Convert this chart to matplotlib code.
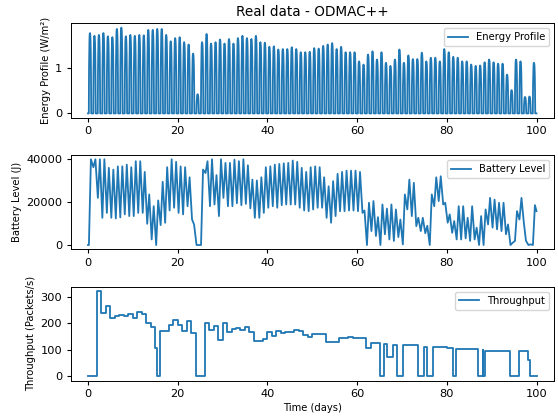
import matplotlib
matplotlib.use('Agg')
import matplotlib.pyplot as plt

# ---------------- data ----------------
days = list(range(100))

energy_peaks = [1.76, 1.70, 1.72, 1.76, 1.69, 1.67, 1.85, 1.88, 1.69, 1.72,
                1.70, 1.72, 1.71, 1.83, 1.83, 1.85, 1.85, 1.72, 1.58, 1.65,
                1.67, 1.56, 1.51, 1.31, 0.42, 1.56, 1.74, 1.53, 1.56, 1.62,
                1.53, 1.63, 1.53, 1.65, 1.70, 1.65, 1.63, 1.70, 1.56, 1.55,
                1.46, 1.47, 1.40, 1.41, 1.41, 1.45, 1.41, 1.34, 1.34, 1.35,
                1.43, 1.42, 1.48, 1.51, 1.54, 1.41, 1.46, 1.34, 1.34, 1.34,
                1.14, 1.07, 1.29, 1.36, 1.18, 1.34, 1.11, 1.04, 1.18, 1.40,
                1.11, 1.27, 1.19, 1.19, 1.33, 1.14, 1.22, 1.22, 1.14, 1.41,
                1.34, 1.24, 1.22, 1.14, 1.14, 1.07, 1.04, 1.05, 1.12, 1.18,
                1.12, 1.09, 1.09, 0.85, 0.51, 1.18, 1.14, 0.36, 0.37, 1.11]

# normalised shape of one day of irradiance (fraction of a day, fraction of peak)
day_shape_t = [0.18, 0.23, 0.28, 0.33, 0.38, 0.45, 0.52, 0.57, 0.62, 0.67, 0.72]
day_shape_f = [0.0, 0.55, 0.80, 0.93, 0.99, 1.00, 0.97, 0.90, 0.75, 0.45, 0.0]

# battery: morning minimum (~d+0.2) and evening maximum (~d+0.65)
batt_min = [0, 36300, 22000, 12700, 15000, 12700, 12400, 12900, 14300, 13500,
            13500, 15000, 15000, 9900, 2600, 0, 9300, 10400, 16100, 17400,
            15000, 14300, 18100, 11900, 0, 0, 33600, 18100, 18900, 13500,
            22000, 18100, 18100, 19500, 18600, 19200, 17100, 12700, 12700, 15000,
            17400, 18100, 17400, 18600, 18900, 18900, 18900, 17400, 16100, 15800,
            16600, 17400, 17400, 12700, 10400, 13500, 15800, 15800, 16100, 16100,
            15800, 15000, 0, 6500, 4200, 0, 5000, 2600, 1900, 3700,
            300, 16600, 13500, 8800, 6500, 5500, 0, 18100, 20500, 18900,
            10400, 5700, 2600, 2600, 3100, 1900, 2600, 0, 0, 9600,
            8100, 7300, 6500, 5000, 0, 1900, 11900, 10000, 0, 0]
batt_max = [40000, 40000, 40000, 40000, 36000, 35200, 36700, 36700, 37500, 36300,
            39100, 39100, 34100, 23600, 18100, 20800, 29500, 36300, 40000, 38800,
            36700, 36300, 31600, 9600, 0, 35200, 39100, 40000, 32600, 40000,
            38300, 38300, 39800, 39100, 40000, 37200, 30500, 30100, 31600, 36300,
            36700, 37500, 37800, 38100, 38300, 39400, 38800, 36000, 34100, 36300,
            36700, 36300, 31600, 27400, 29800, 33200, 34100, 34700, 34700, 34700,
            34100, 16100, 19700, 20500, 13000, 18900, 17000, 18900, 16600, 11900,
            23600, 30500, 29000, 12700, 12700, 9000, 23600, 31600, 32100, 19700,
            14300, 11200, 18100, 18100, 12700, 18100, 8100, 13500, 16600, 22000,
            21200, 19700, 19700, 9600, 1000, 15800, 22000, 2000, 300, 18600]
batt_end = 15800

# throughput: step start times (days) and values (packets/s)
tp_t = [0, 2, 3, 4, 5, 6, 7, 8, 9, 10, 11, 12, 13, 14, 15, 15.3, 16, 18, 19, 20,
        21, 22, 23, 24, 26, 27, 28, 29, 30, 31, 32, 33, 34, 35, 36, 37, 39, 40, 41, 42,
        43, 44, 45, 46, 47, 48, 49, 50, 53, 56, 58, 59, 61, 62, 63, 65, 66, 66.7, 68, 68.8,
        70.2, 73.5, 74.9, 75.6, 77, 79, 80, 81.4, 82, 87, 88, 88.1, 88.6, 94.2, 96, 98, 98.5]
tp_v = [0, 322, 238, 267, 220, 226, 231, 226, 235, 220, 241, 236, 203, 188, 107, 0, 170, 195, 213, 195,
        170, 207, 164, 0, 203, 176, 191, 136, 201, 168, 178, 181, 175, 187, 166, 135, 141, 166, 154, 170,
        163, 169, 166, 175, 171, 156, 147, 159, 131, 144, 150, 146, 143, 106, 125, 0, 122, 75, 119, 0,
        119, 0, 112, 0, 110, 112, 106, 0, 102, 0, 100, 0, 97, 0, 94, 62, 0]
tp_end = 100

# ---------------- build series ----------------
e_t = [0.0]
e_v = [0.0]
for d, p in zip(days, energy_peaks):
    for s, f in zip(day_shape_t, day_shape_f):
        e_t.append(d + s)
        e_v.append(p * f)
e_t.append(100.0)
e_v.append(0.0)

b_t = [0.0]
b_v = [0]
for d, lo, hi in zip(days, batt_min, batt_max):
    b_t += [d + 0.2, d + 0.65]
    b_v += [lo, hi]
b_t.append(100.0)
b_v.append(batt_end)

s_t = tp_t + [tp_end]
s_v = tp_v + [tp_v[-1]]

# ---------------- figure ----------------
plt.rcParams['font.family'] = 'DejaVu Sans'
plt.rcParams['font.size'] = 7.2
plt.rcParams['xtick.labelsize'] = 8.2
plt.rcParams['ytick.labelsize'] = 8.2
plt.rcParams['xtick.major.size'] = 3.0
plt.rcParams['ytick.major.size'] = 3.0
plt.rcParams['xtick.major.pad'] = 3.0
plt.rcParams['ytick.major.pad'] = 3.0
plt.rcParams['axes.linewidth'] = 0.7
plt.rcParams['axes.labelpad'] = 3.0

W, H = 558, 416
fig = plt.figure(figsize=(W / 100, H / 100), dpi=100)

left, right = 70.5, 554
rows = [(23.3, 117.7), (155.0, 249.3), (286.7, 380.7)]
axes = []
for top, bot in rows:
    ax = fig.add_axes([left / W, 1 - bot / H, (right - left) / W, (bot - top) / H])
    axes.append(ax)

c = '#1f77b4'
lw = 1.3
ax1, ax2, ax3 = axes
ax1.plot(e_t, e_v, color=c, lw=lw, label='Energy Profile')
ax1.set_ylabel('Energy Profile (W/m²)')
ax1.set_title('Real data - ODMAC++', fontsize=9.8, pad=5)

ax2.plot(b_t, b_v, color=c, lw=lw, label='Battery Level')
ax2.set_ylabel('Battery Level (J)')

ax3.step(s_t, s_v, where='post', color=c, lw=lw, label='Throughput')
ax3.set_ylabel('Throughput (Packets/s)')
ax3.set_xlabel('Time (days)')

x0_px, x100_px = 88.0, 536.5
scale = (x100_px - x0_px) / 100.0
for ax in axes:
    ax.set_xlim((left - x0_px) / scale, (right - x0_px) / scale)
    ax.set_xticks([0, 20, 40, 60, 80, 100])
    ax.legend(loc='upper right', fontsize=7.2)

ax1.set_yticks([0, 1])
ax2.set_yticks([0, 20000, 40000])
ax3.set_yticks([0, 100, 200, 300])

fig.savefig('out.png', dpi=100)
